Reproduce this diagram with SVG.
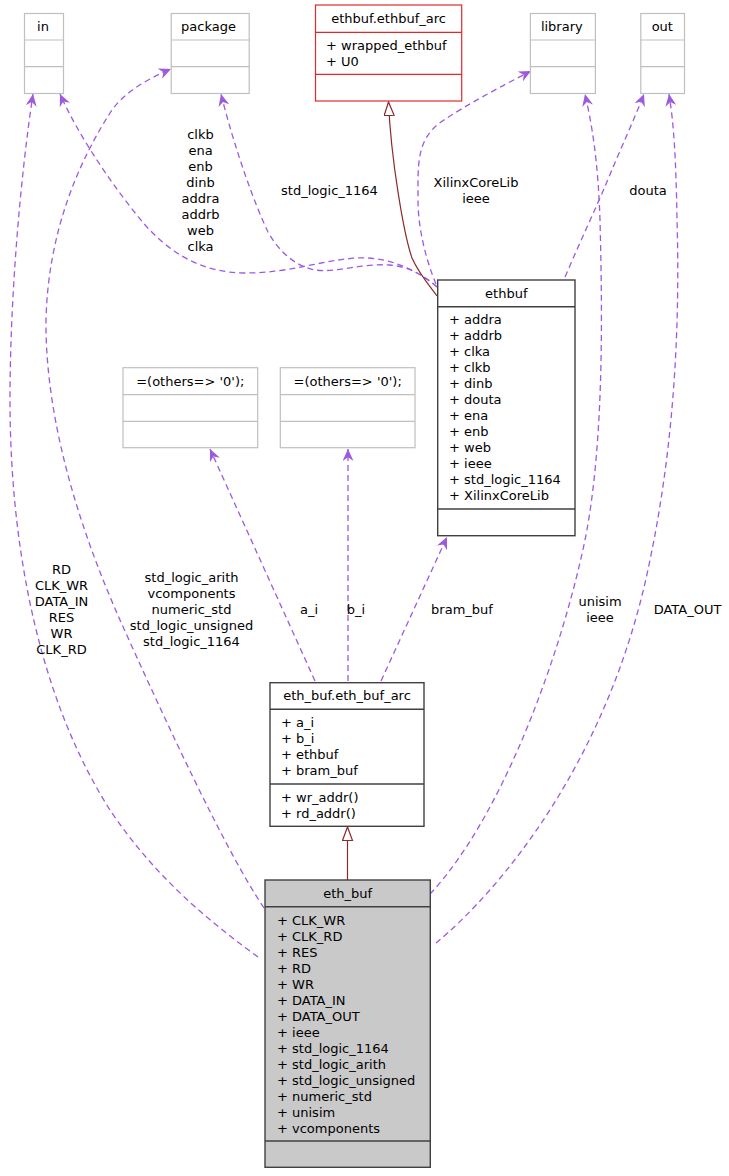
<svg xmlns="http://www.w3.org/2000/svg" width="729" height="1176" viewBox="0 0 729 1176">
<style>
text{font-family:"DejaVu Sans","Liberation Sans",sans-serif;font-size:13px;fill:#000}
.c{text-anchor:middle}
.gbox{fill:#fff;stroke:#bfbfbf;stroke-width:1.2}
.rbox{fill:#fff;stroke:#e02a2a;stroke-width:1.2}
.bbox{fill:#fff;stroke:#404040;stroke-width:1.4}
.mbox{fill:#c9c9c9;stroke:#404040;stroke-width:1.4}
.gl{stroke:#bfbfbf;stroke-width:1.2}
.rl{stroke:#e02a2a;stroke-width:1.2}
.bl{stroke:#404040;stroke-width:1.4}
.use{fill:none;stroke:#9d5ae0;stroke-width:1.3;stroke-dasharray:6,4;marker-end:url(#vee)}
.inh{fill:none;stroke:#8b2a2a;stroke-width:1.2;marker-end:url(#tri)}
</style>
<defs>
<marker id="vee" markerWidth="13" markerHeight="11" refX="12" refY="5.5" orient="auto" markerUnits="userSpaceOnUse"><path d="M0,0 L12,5.5 L0,11 L3.8,5.5 z" fill="#9d5ae0"/></marker>
<marker id="tri" markerWidth="16" markerHeight="12" refX="14" refY="5.5" orient="auto" markerUnits="userSpaceOnUse"><path d="M0.5,0.5 L14,5.5 L0.5,10.5 z" fill="#fff" stroke="#8b2a2a" stroke-width="1.2"/></marker>
</defs>
<g id="connectors">
<path class="use" d="M437,287 C420,272 390,256 357,258 C322,260 290,273 246,273 C200,273 170,252 146,226 C115,190 78,135 60,94"/>
<path class="use" d="M437,287 C425,276 410,267 390,265 C362,263 337,273 315,270 C294,266 278,250 268,232 C255,205 235,150 221,94"/>
<path class="use" d="M436,284 C428,265 418,232 418,200 C418,165 416,140 441,122 C466,105 500,87 531,71"/>
<path class="use" d="M565,277 C580,242 595,210 606,184 C620,150 634,120 644,94"/>
<path class="use" d="M258,957 C200,915 150,870 110,810 C40,700 10,550 10,400 C10,300 20,180 33,94"/>
<path class="use" d="M264,908 C225,850 165,720 120,620 C80,530 45,420 46,320 C48,230 80,160 110,113 C122,94 145,80 171,69"/>
<path class="use" d="M430,894 C500,820 560,660 585,540 C605,440 602,300 600,220 C598,160 592,125 585,94"/>
<path class="use" d="M436,943 C500,890 610,760 650,560 C675,440 680,320 677,220 C676,160 674,125 669,94"/>
<path class="use" d="M315,681 L210,449"/>
<path class="use" d="M348,681 L348,449"/>
<path class="use" d="M381,681 L447,537"/>
<path class="inh" d="M437,296 C428,284 418,272 412,258 C404,235 391,160 388.5,102"/>
<path class="inh" d="M347.5,880 L347.5,827"/>
<text class="c" x="200.5" y="139">clkb</text>
<text class="c" x="200.5" y="155">ena</text>
<text class="c" x="200.5" y="171">enb</text>
<text class="c" x="200.5" y="187">dinb</text>
<text class="c" x="200.5" y="203">addra</text>
<text class="c" x="200.5" y="219">addrb</text>
<text class="c" x="200.5" y="235">web</text>
<text class="c" x="200.5" y="251">clka</text>
<text class="c" x="329.5" y="195">std_logic_1164</text>
<text class="c" x="476" y="187">XilinxCoreLib</text>
<text class="c" x="476" y="203">ieee</text>
<text class="c" x="648" y="195">douta</text>
<text class="c" x="61.5" y="574">RD</text>
<text class="c" x="61.5" y="590">CLK_WR</text>
<text class="c" x="61.5" y="606">DATA_IN</text>
<text class="c" x="61.5" y="622">RES</text>
<text class="c" x="61.5" y="638">WR</text>
<text class="c" x="61.5" y="654">CLK_RD</text>
<text class="c" x="191.5" y="582">std_logic_arith</text>
<text class="c" x="191.5" y="598">vcomponents</text>
<text class="c" x="191.5" y="614">numeric_std</text>
<text class="c" x="191.5" y="630">std_logic_unsigned</text>
<text class="c" x="191.5" y="646">std_logic_1164</text>
<text class="c" x="309" y="614">a_i</text>
<text class="c" x="356" y="614">b_i</text>
<text class="c" x="462" y="614">bram_buf</text>
<text class="c" x="600" y="606">unisim</text>
<text class="c" x="600" y="622">ieee</text>
<text class="c" x="687.5" y="614">DATA_OUT</text>
</g>
<g id="node-in">
<rect class="gbox" x="24.5" y="13.5" width="39" height="80"/>
<line class="gl" x1="24.5" y1="40" x2="63.5" y2="40"/>
<line class="gl" x1="24.5" y1="66.7" x2="63.5" y2="66.7"/>
<text class="c" x="43" y="31">in</text>
</g>
<g id="node-package">
<rect class="gbox" x="171.2" y="13.5" width="78" height="80"/>
<line class="gl" x1="171.2" y1="40" x2="249.2" y2="40"/>
<line class="gl" x1="171.2" y1="66.7" x2="249.2" y2="66.7"/>
<text class="c" x="208.5" y="31">package</text>
</g>
<g id="node-ethbuf_arc">
<rect class="rbox" x="315.5" y="5" width="146.2" height="96"/>
<line class="rl" x1="315.5" y1="32.3" x2="461.7" y2="32.3"/>
<line class="rl" x1="315.5" y1="74.3" x2="461.7" y2="74.3"/>
<text class="c" x="388.6" y="23">ethbuf.ethbuf_arc</text>
<text x="326" y="49.5">+ wrapped_ethbuf</text>
<text x="326" y="65.5">+ U0</text>
</g>
<g id="node-library">
<rect class="gbox" x="530.4" y="13.5" width="65" height="80"/>
<line class="gl" x1="530.4" y1="40" x2="595.4" y2="40"/>
<line class="gl" x1="530.4" y1="66.7" x2="595.4" y2="66.7"/>
<text class="c" x="561.8" y="31">library</text>
</g>
<g id="node-out">
<rect class="gbox" x="640.8" y="13.5" width="43.7" height="80"/>
<line class="gl" x1="640.8" y1="40" x2="684.5" y2="40"/>
<line class="gl" x1="640.8" y1="66.7" x2="684.5" y2="66.7"/>
<text class="c" x="662.3" y="31">out</text>
</g>
<g id="node-ethbuf">
<rect class="bbox" x="437.7" y="280" width="137.3" height="255.7"/>
<line class="bl" x1="437.7" y1="306.7" x2="575" y2="306.7"/>
<line class="bl" x1="437.7" y1="509" x2="575" y2="509"/>
<text class="c" x="506.3" y="298">ethbuf</text>
<text x="449" y="323.5">+ addra</text>
<text x="449" y="339.5">+ addrb</text>
<text x="449" y="355.5">+ clka</text>
<text x="449" y="371.5">+ clkb</text>
<text x="449" y="387.5">+ dinb</text>
<text x="449" y="403.5">+ douta</text>
<text x="449" y="419.5">+ ena</text>
<text x="449" y="435.5">+ enb</text>
<text x="449" y="451.5">+ web</text>
<text x="449" y="467.5">+ ieee</text>
<text x="449" y="483.5">+ std_logic_1164</text>
<text x="449" y="499.5">+ XilinxCoreLib</text>
</g>
<g id="node-others-a">
<rect class="gbox" x="123" y="367.7" width="134.7" height="80"/>
<line class="gl" x1="123" y1="394.7" x2="257.7" y2="394.7"/>
<line class="gl" x1="123" y1="421.3" x2="257.7" y2="421.3"/>
<text class="c" x="190.3" y="386">=(others=&gt; '0');</text>
</g>
<g id="node-others-b">
<rect class="gbox" x="280.3" y="367.7" width="134.7" height="80"/>
<line class="gl" x1="280.3" y1="394.7" x2="415" y2="394.7"/>
<line class="gl" x1="280.3" y1="421.3" x2="415" y2="421.3"/>
<text class="c" x="347.7" y="386">=(others=&gt; '0');</text>
</g>
<g id="node-eth_buf_arc">
<rect class="bbox" x="270" y="682.7" width="154" height="143.6"/>
<line class="bl" x1="270" y1="709.3" x2="424" y2="709.3"/>
<line class="bl" x1="270" y1="784" x2="424" y2="784"/>
<text class="c" x="347" y="700">eth_buf.eth_buf_arc</text>
<text x="281" y="727">+ a_i</text>
<text x="281" y="743">+ b_i</text>
<text x="281" y="759">+ ethbuf</text>
<text x="281" y="775">+ bram_buf</text>
<text x="281" y="802">+ wr_addr()</text>
<text x="281" y="818">+ rd_addr()</text>
</g>
<g id="node-eth_buf">
<rect class="mbox" x="265" y="880" width="165.3" height="287.3"/>
<line class="bl" x1="265" y1="906.7" x2="430.3" y2="906.7"/>
<line class="bl" x1="265" y1="1141" x2="430.3" y2="1141"/>
<text class="c" x="347.7" y="898">eth_buf</text>
<text x="277" y="924.5">+ CLK_WR</text>
<text x="277" y="940.5">+ CLK_RD</text>
<text x="277" y="956.5">+ RES</text>
<text x="277" y="972.5">+ RD</text>
<text x="277" y="988.5">+ WR</text>
<text x="277" y="1004.5">+ DATA_IN</text>
<text x="277" y="1020.5">+ DATA_OUT</text>
<text x="277" y="1036.5">+ ieee</text>
<text x="277" y="1052.5">+ std_logic_1164</text>
<text x="277" y="1068.5">+ std_logic_arith</text>
<text x="277" y="1084.5">+ std_logic_unsigned</text>
<text x="277" y="1100.5">+ numeric_std</text>
<text x="277" y="1116.5">+ unisim</text>
<text x="277" y="1132.5">+ vcomponents</text>
</g>
</svg>
